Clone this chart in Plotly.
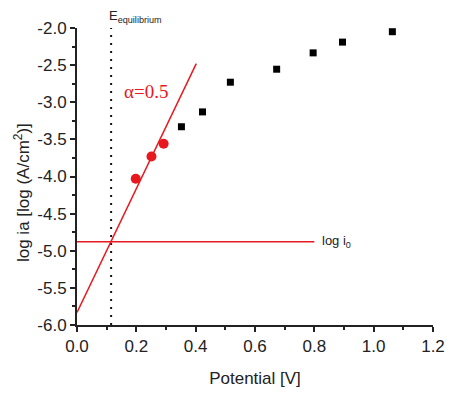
import plotly.graph_objects as go

# data
potential_sq = [0.352, 0.423, 0.517, 0.673, 0.796, 0.895, 1.063]
logia_sq = [-3.33, -3.13, -2.73, -2.555, -2.335, -2.19, -2.05]
potential_red = [0.198, 0.251, 0.292]
logia_red = [-4.03, -3.73, -3.56]
fit_x = [0.0, 0.402]
fit_y = [-5.83, -2.48]
log_i0 = -4.88
i0_x = [0.0, 0.80]
e_eq = 0.115

xticks = [0.0, 0.2, 0.4, 0.6, 0.8, 1.0, 1.2]
xtick_text = ["0.0", "0.2", "0.4", "0.6", "0.8", "1.0", "1.2"]
yticks = [-6.0, -5.5, -5.0, -4.5, -4.0, -3.5, -3.0, -2.5, -2.0]
ytick_text = ["-6.0", "-5.5", "-5.0", "-4.5", "-4.0", "-3.5", "-3.0", "-2.5", "-2.0"]

RED = "#e8191e"
FONT = "Liberation Sans, Arial, sans-serif"
INK = "#222222"

fig = go.Figure()
fig.add_trace(go.Scatter(x=[e_eq, e_eq], y=[-6.0, -2.0], mode="lines",
                         line=dict(color="#111111", width=2, dash="2px,6px"),
                         showlegend=False))
fig.add_trace(go.Scatter(x=i0_x, y=[log_i0, log_i0], mode="lines",
                         line=dict(color=RED, width=1.5), showlegend=False))
fig.add_trace(go.Scatter(x=fit_x, y=fit_y, mode="lines",
                         line=dict(color=RED, width=1.5), showlegend=False))
fig.add_trace(go.Scatter(x=potential_red, y=logia_red, mode="markers",
                         marker=dict(color=RED, size=10, symbol="circle"),
                         showlegend=False))
fig.add_trace(go.Scatter(x=potential_sq, y=logia_sq, mode="markers",
                         marker=dict(color="black", size=7, symbol="square"),
                         showlegend=False))

fig.add_annotation(x=0.231, y=-2.85, xref="x", yref="y", text="α=0.5",
                   showarrow=False, font=dict(family="Liberation Serif, Times New Roman, serif",
                                              size=19, color=RED))
fig.add_annotation(x=0.100, y=1.04, xref="x", yref="paper", text="E<sub>equilibrium</sub>",
                   showarrow=False, xanchor="left", yanchor="middle",
                   font=dict(family=FONT, size=13, color=INK))
fig.add_annotation(x=0.82, y=log_i0, xref="x", yref="y", text="log i<sub>0</sub>",
                   showarrow=False, xanchor="left", yanchor="middle",
                   font=dict(family=FONT, size=13, color=INK))
# y-axis title
fig.add_annotation(x=-0.155, y=0.447, xref="paper", yref="paper",
                   text="log ia [log (A/cm<sup>2</sup>)]", textangle=-90,
                   showarrow=False, xanchor="center", yanchor="middle",
                   font=dict(family=FONT, size=17, color=INK))

axis_common = dict(showline=True, linecolor=INK, linewidth=2, ticks="outside",
                   ticklen=5, tickwidth=2, tickcolor=INK, showgrid=False,
                   zeroline=False, mirror=False,
                   tickfont=dict(family=FONT, size=17, color=INK))

fig.update_xaxes(range=[0, 1.2], tickvals=xticks, ticktext=xtick_text,
                 minor=dict(dtick=0.1, ticks="outside", ticklen=3, tickwidth=1.5,
                            tickcolor=INK, tick0=0),
                 title=dict(text="Potential [V]", font=dict(family=FONT, size=17, color=INK),
                            standoff=17),
                 **axis_common)
fig.update_yaxes(range=[-6, -2], tickvals=yticks, ticktext=ytick_text,
                 minor=dict(dtick=0.25, ticks="outside", ticklen=3, tickwidth=1.5,
                            tickcolor=INK, tick0=-6),
                 **axis_common)

fig.update_layout(width=457, height=397, margin=dict(l=77, r=15, t=28, b=67),
                  plot_bgcolor="white", paper_bgcolor="white")

fig.write_html("out.html")
